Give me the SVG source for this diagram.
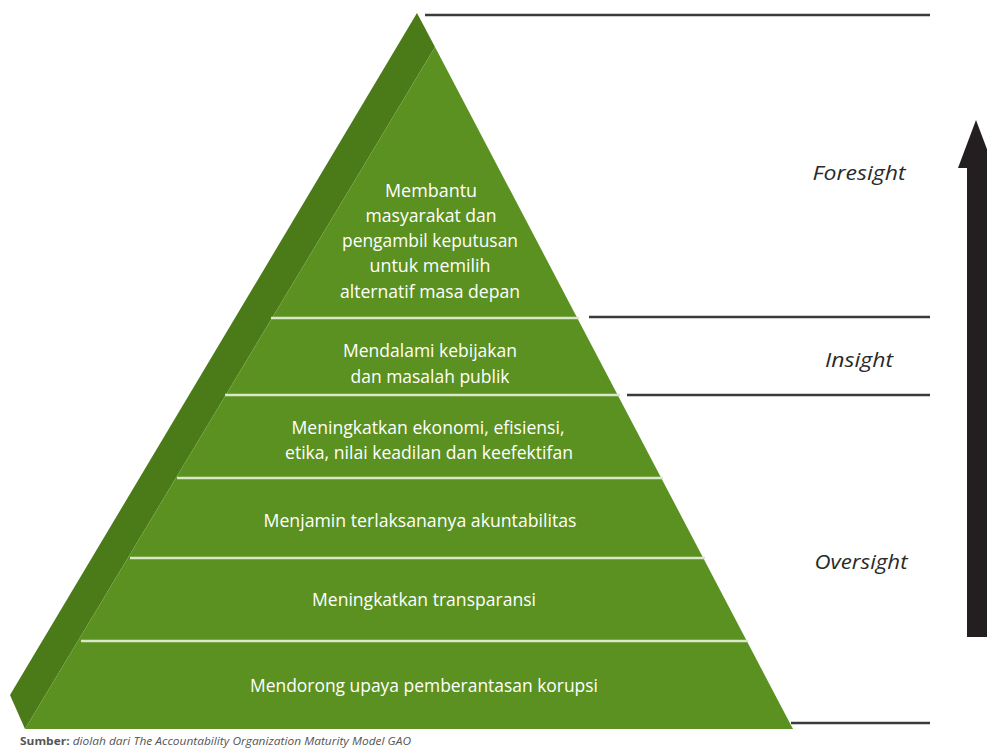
<svg xmlns="http://www.w3.org/2000/svg" width="987" height="749" viewBox="0 0 987 749">
  <style>
    .face { fill: #5b9120; }
    .side { fill: #4b7a18; }
    .sep { stroke: #d9e8c9; stroke-width: 2.5; }
    .rule { stroke: #3a3a3a; stroke-width: 2.5; }
    .lvl { font-family: "Open Sans", "DejaVu Sans", sans-serif; font-size: 17.5px; fill: #ffffff; text-anchor: middle; }
    .tag { font-family: "Open Sans", "DejaVu Sans", sans-serif; font-size: 20.5px; font-style: italic; fill: #2a2a2a; text-anchor: middle; }
    .src { font-family: "Open Sans", "DejaVu Sans", sans-serif; font-size: 11px; fill: #555555; }
  </style>

  <!-- pyramid body -->
  <g id="pyramid">
    <polygon class="side" points="417,13 10,695 25,729 435,47"/>
    <polygon class="face" points="435,47 793,729 25,729"/>
  </g>

  <!-- level separators -->
  <g id="separators">
    <line class="sep" x1="271" y1="318" x2="579" y2="318"/>
    <line class="sep" x1="225" y1="395" x2="620" y2="395"/>
    <line class="sep" x1="177" y1="478" x2="663" y2="478"/>
    <line class="sep" x1="130" y1="558" x2="705" y2="558"/>
    <line class="sep" x1="81" y1="641" x2="748" y2="641"/>
  </g>

  <!-- levels -->
  <g id="level-foresight">
    <text class="lvl" x="431" y="197" textLength="92" lengthAdjust="spacingAndGlyphs">Membantu</text>
    <text class="lvl" x="431" y="222" textLength="131" lengthAdjust="spacingAndGlyphs">masyarakat dan</text>
    <text class="lvl" x="430" y="247" textLength="176" lengthAdjust="spacingAndGlyphs">pengambil keputusan</text>
    <text class="lvl" x="430" y="272" textLength="121" lengthAdjust="spacingAndGlyphs">untuk memilih</text>
    <text class="lvl" x="430" y="298" textLength="180" lengthAdjust="spacingAndGlyphs">alternatif masa depan</text>
  </g>
  <g id="level-insight">
    <text class="lvl" x="430" y="357" textLength="174" lengthAdjust="spacingAndGlyphs">Mendalami kebijakan</text>
    <text class="lvl" x="430" y="383" textLength="159" lengthAdjust="spacingAndGlyphs">dan masalah publik</text>
  </g>
  <g id="level-ekonomi">
    <text class="lvl" x="428" y="434" textLength="273" lengthAdjust="spacingAndGlyphs">Meningkatkan ekonomi, efisiensi,</text>
    <text class="lvl" x="429" y="459" textLength="288" lengthAdjust="spacingAndGlyphs">etika, nilai keadilan dan keefektifan</text>
  </g>
  <g id="level-akuntabilitas">
    <text class="lvl" x="420" y="527" textLength="313" lengthAdjust="spacingAndGlyphs">Menjamin terlaksananya akuntabilitas</text>
  </g>
  <g id="level-transparansi">
    <text class="lvl" x="424" y="606" textLength="224" lengthAdjust="spacingAndGlyphs">Meningkatkan transparansi</text>
  </g>
  <g id="level-korupsi">
    <text class="lvl" x="424" y="692" textLength="348" lengthAdjust="spacingAndGlyphs">Mendorong upaya pemberantasan korupsi</text>
  </g>

  <!-- connectors: range rules and direction arrow -->
  <g id="connectors">
    <line class="rule" x1="425" y1="15" x2="930" y2="15"/>
    <line class="rule" x1="589" y1="317" x2="930" y2="317"/>
    <line class="rule" x1="627" y1="395" x2="930" y2="395"/>
    <line class="rule" x1="791" y1="723" x2="930" y2="723"/>
    <polygon fill="#231f20" points="976,120 958,168 967,168 967,637 987,637 987,168 994,168"/>
  </g>

  <g id="labels">
    <text class="tag" x="859" y="180" textLength="93" lengthAdjust="spacingAndGlyphs">Foresight</text>
    <text class="tag" x="859" y="367" textLength="68" lengthAdjust="spacingAndGlyphs">Insight</text>
    <text class="tag" x="861" y="569" textLength="93" lengthAdjust="spacingAndGlyphs">Oversight</text>
  </g>

  <g id="source">
    <text class="src" x="20" y="745" textLength="391" lengthAdjust="spacingAndGlyphs"><tspan font-weight="bold">Sumber:</tspan><tspan font-style="italic"> diolah dari The Accountability Organization Maturity Model GAO</tspan></text>
  </g>
</svg>
